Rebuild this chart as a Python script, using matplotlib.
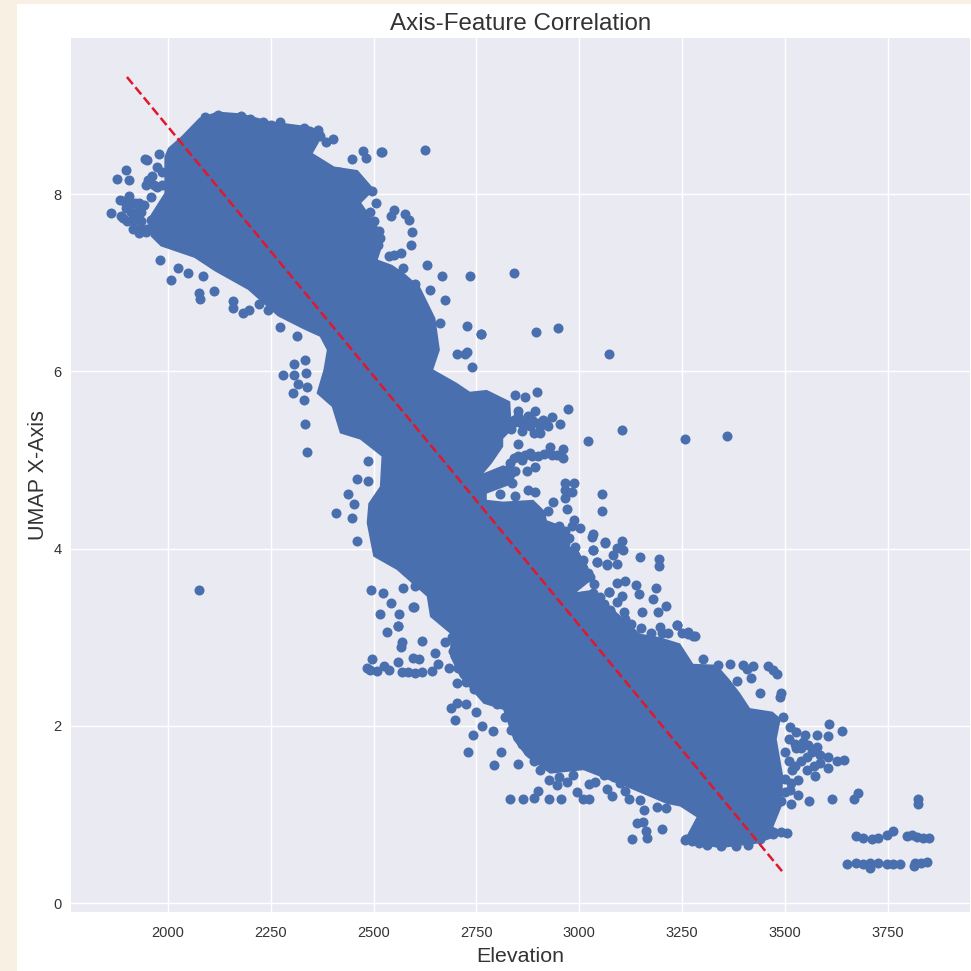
"""
Axis-feature correlation: elevation against the UMAP x axis.
"""

import matplotlib
matplotlib.use("Agg")
import matplotlib.pyplot as plt
from matplotlib.patches import Rectangle

plt.style.use("seaborn-v0_8")
plt.rcParams["font.family"] = ["Liberation Sans", "DejaVu Sans"]

# outline of the solid mass where the points overlap completely
core_elevation = [
    1950, 1991, 1991, 2000, 2032, 2076, 2120, 2177, 2250, 2348, 2380, 2352, 2404, 2461, 2502, 2470,
    2510, 2518, 2510, 2545, 2576, 2613, 2650, 2661, 2645, 2702, 2734, 2775, 2832, 2836, 2815, 2815,
    2787, 2767, 2815, 2852, 2832, 2775, 2775, 2815, 2888, 2917, 2921, 2961, 2961, 2998, 3014, 3034,
    2994, 3026, 3058, 3148, 3196, 3245, 3277, 3334, 3366, 3391, 3415, 3470, 3490, 3480, 3496, 3492,
    3472, 3504, 3431, 3342, 3253, 3285, 3245, 3212, 3115, 3010, 2929, 2872, 2840, 2815, 2767, 2710,
    2686, 2686, 2637, 2629, 2556, 2499, 2483, 2487, 2515, 2519, 2467, 2418, 2398, 2361, 2378, 2386,
    2369, 2331, 2267, 2194, 2113, 2064, 1982, 1958,
]
core_umap = [
    7.71, 8.01, 8.42, 8.52, 8.65, 8.86, 8.93, 8.91, 8.82, 8.76, 8.69, 8.46, 8.31, 8.27, 8.05, 7.90,
    7.63, 7.37, 7.26, 7.20, 7.10, 6.95, 6.60, 6.24, 6.02, 5.87, 5.77, 5.79, 5.66, 5.34, 5.24, 5.15,
    4.96, 4.85, 4.94, 4.87, 4.72, 4.62, 4.55, 4.53, 4.55, 4.42, 4.32, 4.25, 4.06, 3.98, 3.83, 3.66,
    3.51, 3.53, 3.42, 3.04, 3.00, 2.93, 2.70, 2.69, 2.52, 2.37, 2.20, 2.16, 2.08, 1.85, 1.43, 1.09,
    0.86, 0.79, 0.67, 0.62, 0.69, 0.97, 1.09, 1.12, 1.31, 1.50, 1.46, 1.65, 1.84, 2.18, 2.25, 2.55,
    2.78, 3.04, 3.23, 3.46, 3.76, 3.91, 4.29, 4.51, 4.70, 5.04, 5.23, 5.30, 5.60, 5.75, 6.02, 6.24,
    6.39, 6.47, 6.62, 6.92, 7.13, 7.28, 7.41, 7.52,
]

# single points that stand clear of the mass
elevation = [
    1862, 1876, 1898, 1904, 1944, 1949, 1977, 1882, 1904, 1890, 1930, 1980, 2006, 2024, 2049, 2085,
    2076, 2078, 2111, 2159, 2159, 2182, 2196, 2222, 2242, 2273, 2314, 2474, 2447, 2481, 2520, 2402, 2271,
    1930, 1959, 1951, 1973, 1947, 1973, 1918, 1926, 1946, 1898, 1886, 1894, 1942, 1959,
    2121, 2177, 2230, 2364, 2384,
    2542, 2550, 2575, 2587, 2591, 2550, 2567, 2571, 2579, 2514, 2510,
    2625, 2518, 2630, 2666, 2734, 2841, 2727, 2761, 2895, 2948, 3072, 2593, 2637, 2661, 2673, 2722,
    2760, 2702, 2728, 2738, 2280, 2306, 2306, 2333, 2336, 2317, 2303, 2331, 2339, 2333, 2339,
    2485, 2460, 2487, 2437, 2451, 2408, 2447, 2460, 2493, 2522, 2541, 2571, 2601, 2515, 2562, 2558, 2597,
    2896, 2972, 2953, 2933, 2892, 2852, 2868, 2844, 2844, 2880, 2904, 2925, 3022, 2852, 2868, 2840,
    2900, 2929, 2933, 2961, 2961, 2892, 2874, 2965, 2987, 2965, 2982, 2965, 2969, 3054, 3054, 2937,
    2876, 2892, 2844, 2807, 2925, 2986, 3002, 2982, 3034, 3030, 3063, 3034, 3044, 3067, 3071, 3026,
    3010, 2965, 2823, 2844, 2815, 2836, 2832,
    3103, 3256, 3358, 3063, 3034, 3103, 3107, 3091, 3081, 3044, 3067, 3091, 3148, 3194, 3194,
    3091, 3111, 3138, 3187, 3145, 3178, 3103, 3073, 3091, 3210, 3152, 3191, 3109, 3195, 3237, 3265,
    3281, 3075, 3050, 3034, 3018, 3006, 2990,
    2532, 2558, 2570, 2567, 2617, 2595, 2596, 2609, 2649, 2673, 2657,
    2495, 2483, 2491, 2507, 2524, 2538, 2560, 2568, 2584, 2600, 2617, 2641, 2682, 2702,
    2688, 2703, 2724, 2749, 2698, 2763, 2789, 2741, 2730, 2809, 2793, 2852,
    2832, 2862, 2891, 2900, 2927, 2956, 2927, 2945, 2971, 2995, 3010, 3024, 3024, 3038, 3067, 3080,
    3111, 3122, 3148, 3158, 3188, 3212, 3140, 3156, 3162, 3165, 3129, 3200, 3257,
    3460, 3472, 3481, 3399, 3423, 3407, 3417, 3366, 3338, 3439, 3490, 3488, 3383, 3301, 3265, 3277, 3237,
    3608, 3638, 3496, 3512, 3528, 3549, 3577, 3604, 3545, 3577, 3528, 3553, 3585, 3605, 3626, 3644,
    3605, 3573, 3553, 3532, 3516, 3512, 3532, 3515, 3559, 3614, 3668, 3677, 3824, 3824, 3504,
    3674, 3691, 3712, 3727, 3747, 3763, 3796, 3808, 3820, 3836, 3851,
    3650, 3674, 3691, 3707, 3707, 3727, 3747, 3763, 3780, 3814, 3816, 3832, 3846,
    2075,
]
umap_x = [
    7.79, 8.17, 8.27, 8.16, 8.40, 8.38, 8.45, 7.93, 7.98, 7.73, 7.56, 7.25, 7.03, 7.17, 7.11, 7.08,
    6.88, 6.82, 6.91, 6.79, 6.71, 6.66, 6.69, 6.76, 6.69, 6.50, 6.40, 8.48, 8.40, 8.41, 8.47, 8.62, 8.81,
    7.90, 7.97, 8.16, 8.30, 8.10, 8.08, 7.75, 7.61, 7.57, 7.84, 7.75, 7.92, 7.88, 7.71,
    8.89, 8.88, 8.81, 8.72, 8.59,
    7.75, 7.82, 7.77, 7.71, 7.42, 7.31, 7.33, 7.16, 7.01, 7.58, 7.43,
    8.50, 8.47, 7.20, 7.08, 7.08, 7.11, 6.51, 6.42, 6.44, 6.49, 6.19, 7.57, 6.92, 6.55, 6.80, 6.19,
    6.42, 6.20, 6.22, 6.05, 5.96, 5.96, 6.08, 6.13, 5.98, 5.86, 5.75, 5.68, 5.82, 5.41, 5.09,
    4.99, 4.79, 4.76, 4.62, 4.50, 4.40, 4.35, 4.08, 3.53, 3.50, 3.39, 3.56, 3.58, 3.26, 3.26, 3.13, 3.34,
    5.77, 5.58, 5.41, 5.48, 5.55, 5.55, 5.71, 5.73, 5.43, 5.38, 5.30, 5.38, 5.21, 5.18, 5.06, 5.02,
    5.04, 5.15, 5.06, 5.12, 5.02, 4.92, 4.87, 4.74, 4.74, 4.66, 4.64, 4.57, 4.45, 4.62, 4.42, 4.52,
    4.66, 4.64, 4.59, 4.62, 4.42, 4.32, 4.23, 4.25, 4.17, 4.13, 4.06, 3.98, 3.85, 3.81, 3.51, 3.68,
    3.87, 4.06, 4.89, 4.87, 4.81, 4.74, 4.96,
    5.34, 5.24, 5.27, 4.07, 3.98, 4.08, 3.98, 4.01, 3.93, 3.85, 3.83, 3.83, 3.91, 3.88, 3.80,
    3.61, 3.63, 3.59, 3.55, 3.49, 3.43, 3.46, 3.51, 3.40, 3.35, 3.28, 3.28, 3.29, 3.12, 3.14, 3.06,
    3.01, 3.31, 3.34, 3.50, 3.68, 3.85, 4.02,
    3.06, 3.13, 2.95, 2.89, 2.96, 3.34, 2.77, 2.75, 2.82, 2.95, 2.70,
    2.75, 2.65, 2.63, 2.62, 2.67, 2.63, 2.72, 2.61, 2.61, 2.60, 2.61, 2.62, 2.65, 2.48,
    2.20, 2.26, 2.25, 2.16, 2.07, 2.00, 1.94, 1.90, 1.71, 1.70, 1.56, 1.57,
    1.18, 1.18, 1.19, 1.27, 1.18, 1.18, 1.39, 1.33, 1.37, 1.25, 1.17, 1.17, 1.34, 1.37, 1.29, 1.21,
    1.26, 1.18, 1.16, 1.05, 1.09, 1.07, 0.90, 0.92, 0.81, 0.73, 0.72, 0.84, 0.71,
    2.67, 2.63, 2.58, 2.69, 2.67, 2.64, 2.54, 2.70, 2.69, 2.37, 2.37, 2.33, 2.51, 2.75, 3.04, 3.01, 3.14,
    2.02, 1.94, 2.10, 1.99, 1.93, 1.90, 1.90, 1.88, 1.82, 1.76, 1.75, 1.65, 1.67, 1.65, 1.60, 1.62,
    1.53, 1.43, 1.50, 1.39, 1.50, 1.28, 1.22, 1.12, 1.15, 1.18, 1.18, 1.24, 1.18, 1.12, 0.79,
    0.76, 0.74, 0.72, 0.74, 0.77, 0.81, 0.76, 0.77, 0.75, 0.74, 0.73,
    0.44, 0.45, 0.44, 0.40, 0.45, 0.45, 0.44, 0.44, 0.44, 0.42, 0.45, 0.45, 0.46,
    3.53,
]

# points in the crowded fringe, they roughen the outline
fringe_elevation = [
    1910, 1920, 1910, 1925, 1935, 1900, 1915, 1935, 1915, 1935, 1950, 1960, 1965, 1985, 1985,
    2840, 2860, 2870, 2885, 2900, 2912, 2920, 2860, 2890, 2905, 2875, 2850, 2835,
    2850, 2885, 2915, 2945, 2880, 2860,
    2950, 2965, 2955, 2975, 2975, 2990, 3010, 3020, 3005, 3035, 3050, 3060, 3075, 3090, 3110, 3125,
    3150, 3175, 3200, 3215, 3250,
    3260, 3275, 3290, 3310, 3345, 3380, 3410, 3440, 3470, 3490,
    3100, 3085, 3060, 2985, 2950, 2905, 2890, 2875, 2860, 2835, 2820, 2800, 2780, 2745, 2725, 2705, 2692, 2690,
    3510, 3525, 3540, 3555, 3565, 3500, 3510, 3525, 3540, 3570, 3585, 3500, 3515, 3500, 3490,
    2090, 2105, 2140, 2200, 2250, 2290, 2330, 2345, 2370,
    2415, 2440, 2470, 2495, 2505, 2490, 2500, 2515, 2538, 2560, 2600,
]
fringe_umap = [
    7.90, 7.90, 7.80, 7.80, 7.80, 7.70, 7.70, 7.70, 7.60, 7.60, 7.60, 8.20, 8.10, 8.25, 8.10,
    5.45, 5.40, 5.45, 5.45, 5.42, 5.45, 5.40, 5.33, 5.30, 5.38, 5.50, 5.50, 5.35,
    5.04, 5.04, 5.07, 5.05, 5.08, 5.00,
    4.25, 4.20, 4.15, 4.12, 3.95, 3.90, 3.78, 3.72, 3.70, 3.60, 3.45, 3.38, 3.30, 3.20, 3.20, 3.15,
    3.10, 3.05, 3.05, 3.05, 3.05,
    0.72, 0.70, 0.68, 0.66, 0.64, 0.65, 0.66, 0.72, 0.78, 0.80,
    1.35, 1.42, 1.45, 1.45, 1.42, 1.50, 1.60, 1.72, 1.80, 1.95, 2.10, 2.25, 2.30, 2.42, 2.50, 2.65, 2.85, 3.00,
    1.85, 1.80, 1.75, 1.78, 1.70, 1.70, 1.60, 1.55, 1.60, 1.55, 1.58, 1.40, 1.35, 1.25, 1.15,
    8.87, 8.85, 8.85, 8.85, 8.78, 8.72, 8.74, 8.70, 8.65,
    8.25, 8.22, 8.12, 8.03, 7.90, 7.80, 7.70, 7.50, 7.30, 7.10, 6.98,
]

# fitted line
fit_elevation = [1900, 3493]
fit_umap = [9.32, 0.36]

x_ticks = [2000, 2250, 2500, 2750, 3000, 3250, 3500, 3750]
y_ticks = [0, 2, 4, 6, 8]

BLUE = "#4a6fae"

fig = plt.figure(figsize=(9.71, 9.71), dpi=100, facecolor="#f8f0e3")
# white card that the chart sits on
fig.patches.append(Rectangle((17 / 971, 0), 1, 967 / 971, transform=fig.transFigure,
                             facecolor="white", edgecolor="none", zorder=-1))

ax = fig.add_axes([71 / 971, 59 / 971, 899 / 971, 874 / 971])
ax.fill(core_elevation, core_umap, color=BLUE, linewidth=0, zorder=2)
ax.scatter(elevation, umap_x, s=52, color=BLUE, linewidths=0, zorder=2)
ax.scatter(fringe_elevation, fringe_umap, s=52, color=BLUE, linewidths=0, zorder=2)
ax.plot(fit_elevation, fit_umap, "--", color="#e0182d", linewidth=1.8, zorder=3)

ax.set_xlim(1764, 3950)
ax.set_ylim(-0.10, 9.76)
ax.set_xticks(x_ticks)
ax.set_yticks(y_ticks)
ax.tick_params(labelsize=10.5, colors="#333333")
ax.tick_params(axis="x", pad=10)

ax.set_title("Axis-Feature Correlation", fontsize=17.4, color="#333333", pad=6)
ax.set_xlabel("Elevation", fontsize=15.4, color="#333333", labelpad=5)
ax.set_ylabel("UMAP X-Axis", fontsize=15.5, color="#333333", labelpad=3)

fig.savefig("out.png", dpi=100, facecolor=fig.get_facecolor())
